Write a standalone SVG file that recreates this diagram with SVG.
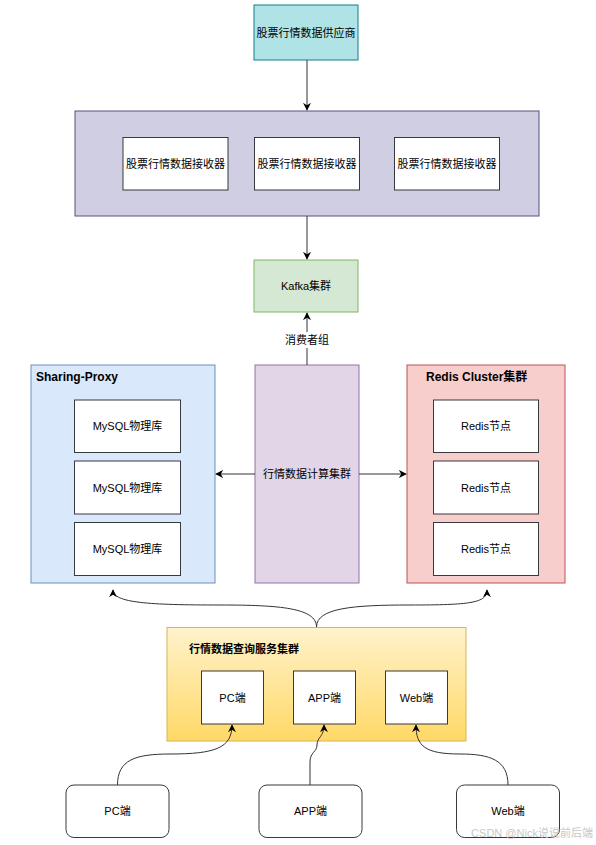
<svg xmlns="http://www.w3.org/2000/svg" width="596" height="845" viewBox="0 0 596 845">
<style>
text{font-family:"Liberation Sans","Noto Sans CJK SC",sans-serif;font-size:11px;fill:#000;text-anchor:middle;dominant-baseline:central}
.b{font-weight:bold;text-anchor:start;font-size:12px}
.w{fill:#fff;stroke:#36393d;stroke-width:1}
.c{fill:none;stroke:#333;stroke-width:1}
</style>
<defs>
<marker id="a" viewBox="0 0 10 10" refX="9" refY="5" markerWidth="8" markerHeight="8" orient="auto" markerUnits="userSpaceOnUse"><path d="M0,0 L10,5 L0,10 L3,5 Z" fill="#000"/></marker>
<linearGradient id="g" x1="0" y1="0" x2="0" y2="1"><stop offset="0" stop-color="#fff2cc"/><stop offset="1" stop-color="#ffd966"/></linearGradient>
</defs>
<rect width="596" height="845" fill="#fff"/>
<g id="supplier"><rect x="254" y="5" width="104" height="55" fill="#b0e3e6" stroke="#0e8088"/><text x="306" y="33">股票行情数据供应商</text></g>
<g id="receivers"><rect x="75" y="111" width="464" height="105" fill="#d0cee2" stroke="#56517e"/></g>
<g id="recv1"><rect class="w" x="123" y="137.5" width="105" height="52.5"/><text x="175.5" y="164">股票行情数据接收器</text></g>
<g id="recv2"><rect class="w" x="254.5" y="137.5" width="105" height="52.5"/><text x="307" y="164">股票行情数据接收器</text></g>
<g id="recv3"><rect class="w" x="394.5" y="137.5" width="105" height="52.5"/><text x="447" y="164">股票行情数据接收器</text></g>
<g id="kafka"><rect x="254" y="260" width="104" height="52" fill="#d5e8d4" stroke="#82b366"/><text x="306" y="286">Kafka集群</text></g>
<g id="sharding"><rect x="31" y="365" width="184" height="218" fill="#dae8fc" stroke="#6c8ebf"/><text class="b" x="36" y="377">Sharing-Proxy</text></g>
<g id="mysql1"><rect class="w" x="74.5" y="400" width="106" height="52.5"/><text x="127.5" y="426">MySQL物理库</text></g>
<g id="mysql2"><rect class="w" x="74.5" y="461" width="106" height="53"/><text x="127.5" y="487.5">MySQL物理库</text></g>
<g id="mysql3"><rect class="w" x="74.5" y="522.5" width="106" height="53"/><text x="127.5" y="549">MySQL物理库</text></g>
<g id="compute"><rect x="255" y="365" width="104" height="218" fill="#e1d5e7" stroke="#9673a6"/><text x="307" y="474">行情数据计算集群</text></g>
<g id="redis"><rect x="407" y="365" width="158" height="218" fill="#f8cecc" stroke="#b85450"/><text class="b" x="426" y="377">Redis Cluster集群</text></g>
<g id="redis1"><rect class="w" x="433.5" y="400" width="105" height="52.5"/><text x="486" y="426">Redis节点</text></g>
<g id="redis2"><rect class="w" x="433.5" y="461" width="105" height="53"/><text x="486" y="487.5">Redis节点</text></g>
<g id="redis3"><rect class="w" x="433.5" y="522.5" width="105" height="53"/><text x="486" y="549">Redis节点</text></g>
<g id="query"><rect x="167" y="627.5" width="299" height="113.5" fill="url(#g)" stroke="#d6b656"/><text class="b" x="189" y="649" style="font-size:11px">行情数据查询服务集群</text></g>
<g id="qpc"><rect class="w" x="201.5" y="671" width="62" height="53"/><text x="232.5" y="697.5">PC端</text></g>
<g id="qapp"><rect class="w" x="293.5" y="671" width="62" height="53"/><text x="324.5" y="697.5">APP端</text></g>
<g id="qweb"><rect class="w" x="385.5" y="671" width="62" height="53"/><text x="416.5" y="697.5">Web端</text></g>
<g id="pc"><rect class="w" x="66" y="785" width="103" height="52.5" rx="8"/><text x="117.5" y="811">PC端</text></g>
<g id="app"><rect class="w" x="259" y="785" width="103" height="52.5" rx="8"/><text x="310.5" y="811">APP端</text></g>
<g id="web"><rect class="w" x="456.5" y="785" width="103" height="52.5" rx="8"/><text x="508" y="811">Web端</text></g>
<g id="connectors">
<path class="c" d="M307,60 L307,110" marker-end="url(#a)"/>
<path class="c" d="M307,216 L307,259" marker-end="url(#a)"/>
<path class="c" d="M307,365 L307,313" marker-end="url(#a)"/>
<rect x="284" y="332" width="46" height="16" fill="#fff"/>
<text x="307" y="340">消费者组</text>
<path class="c" d="M255,474 L216,474" marker-end="url(#a)"/>
<path class="c" d="M359,474 L406,474" marker-end="url(#a)"/>
<path class="c" d="M316.5,627 C316.5,608 280,605 220,605 C150,605 113,603 113,590" marker-end="url(#a)"/>
<path class="c" d="M316.5,627 C316.5,608 353,605 410,605 C470,605 487,603 487,590" marker-end="url(#a)"/>
<path class="c" d="M117.5,785 C117.5,760 135,754 170,754 C215,754 232,748 232,725" marker-end="url(#a)"/>
<path class="c" d="M310,785 L310,762 C310,752 317,752 317,745 C317,737 324,737 324,725" marker-end="url(#a)"/>
<path class="c" d="M508,785 C508,760 490,754 460,754 C425,754 416,746 416,725" marker-end="url(#a)"/>
</g>
<text x="532" y="833" style="fill:#c8c8c8;font-size:11px">CSDN @Nick说说前后端</text>
</svg>
